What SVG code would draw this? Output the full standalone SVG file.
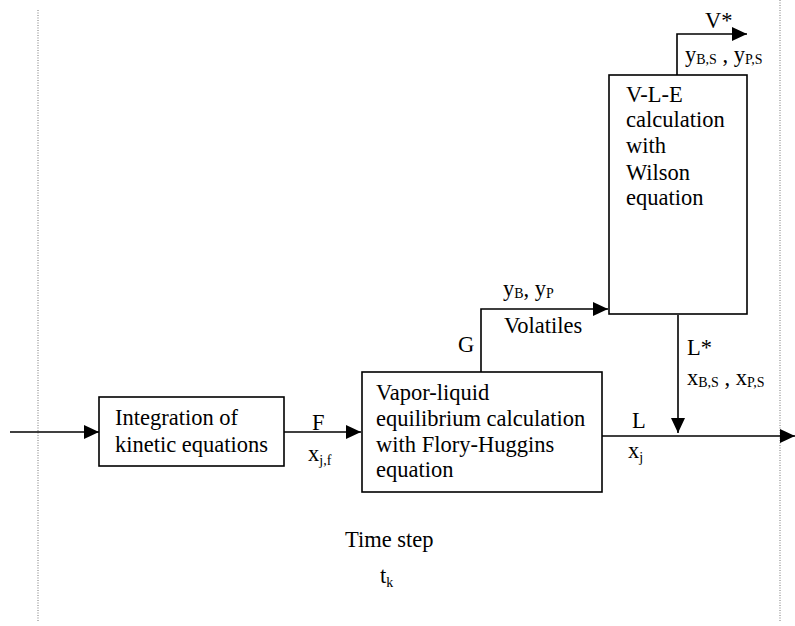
<svg xmlns="http://www.w3.org/2000/svg" width="795" height="626" viewBox="0 0 795 626">
<style>
text{font-family:'Liberation Serif','Times New Roman',serif;font-size:22.5px;fill:#000}
.s{font-size:14px}
.box{fill:#fff;stroke:#000;stroke-width:1.6}
.c{fill:none;stroke:#000;stroke-width:1.6}
.dot{stroke:#777;stroke-width:1;stroke-dasharray:1 1.5}
</style>
<defs>
<marker id="ah" markerUnits="userSpaceOnUse" markerWidth="16" markerHeight="14" refX="15" refY="7" orient="auto">
<path d="M0,0 L15,7 L0,14 Z" fill="#000"/>
</marker>
</defs>
<g id="guides">
<line class="dot" x1="38" y1="10" x2="38" y2="622"/>
<line class="dot" x1="780" y1="0" x2="780" y2="622"/>
</g>
<g id="connectors">
<line class="c" x1="10" y1="432" x2="99" y2="432" marker-end="url(#ah)"/>
<line class="c" x1="284" y1="432" x2="361" y2="432" marker-end="url(#ah)"/>
<polyline class="c" points="481,372 481,309 608,309" marker-end="url(#ah)"/>
<polyline class="c" points="677,75 677,34 747,34" marker-end="url(#ah)"/>
<line class="c" x1="678" y1="315" x2="678" y2="433" marker-end="url(#ah)"/>
<line class="c" x1="602" y1="436" x2="795" y2="436" marker-end="url(#ah)"/>
</g>
<g id="kinetic">
<rect class="box" x="99" y="397" width="185" height="69"/>
<text x="115" y="425">Integration of</text>
<text x="115" y="452">kinetic equations</text>
</g>
<g id="vle-fh">
<rect class="box" x="362" y="372" width="240" height="120"/>
<text x="376" y="400">Vapor-liquid</text>
<text x="376" y="426">equilibrium calculation</text>
<text x="376" y="452">with Flory-Huggins</text>
<text x="376" y="477">equation</text>
</g>
<g id="vle-wilson">
<rect class="box" x="609" y="75" width="138" height="239"/>
<text x="626" y="102">V-L-E</text>
<text x="626" y="127">calculation</text>
<text x="626" y="153">with</text>
<text x="626" y="180">Wilson</text>
<text x="626" y="205">equation</text>
</g>
<g id="labels">
<text x="312" y="430">F</text>
<text x="308" y="461">x<tspan class="s" dy="4">j,f</tspan></text>
<text x="458" y="352">G</text>
<text x="503" y="296">y<tspan class="s" dy="2">B</tspan><tspan dy="-2">, y</tspan><tspan class="s" dy="2">P</tspan></text>
<text x="504" y="333">Volatiles</text>
<text x="705" y="28">V*</text>
<text x="685" y="62">y<tspan class="s" dy="2">B,S</tspan><tspan dy="-2"> , y</tspan><tspan class="s" dy="2">P,S</tspan></text>
<text x="687" y="355">L*</text>
<text x="687" y="385">x<tspan class="s" dy="2">B,S</tspan><tspan dy="-2"> , x</tspan><tspan class="s" dy="2">P,S</tspan></text>
<text x="632" y="428">L</text>
<text x="628" y="458">x<tspan class="s" dy="4">j</tspan></text>
<text x="345" y="547">Time step</text>
<text x="380" y="583">t<tspan class="s" dy="4">k</tspan></text>
</g>
</svg>
